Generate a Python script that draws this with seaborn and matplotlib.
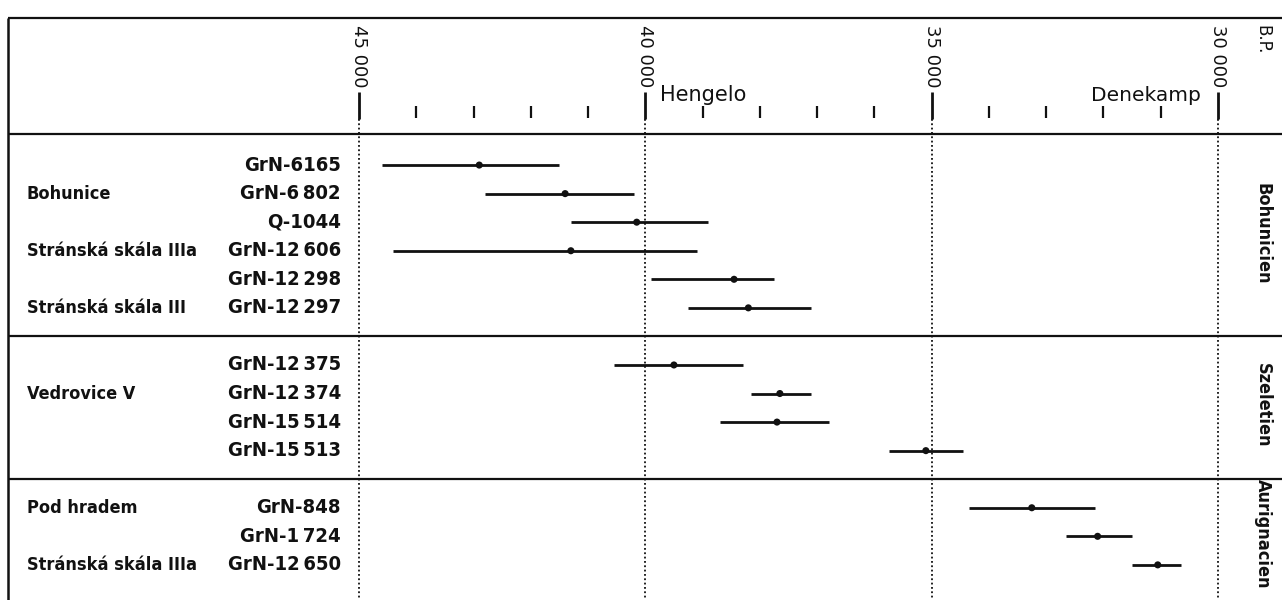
import matplotlib
matplotlib.use("Agg")
import matplotlib.pyplot as plt
import seaborn as sns
import pandas as pd
import numpy as np

# radiocarbon dates in years B.P.
sample_ids = ["GrN-6165", "GrN-6\u2009802", "Q-1044", "GrN-12\u2009606", "GrN-12\u2009298", "GrN-12\u2009297",
              "GrN-12\u2009375", "GrN-12\u2009374", "GrN-15\u2009514", "GrN-15\u2009513",
              "GrN-848", "GrN-1\u2009724", "GrN-12\u2009650"]
age_old = [44600, 42800, 41300, 44400, 39900, 39250, 40550, 38150, 38700, 35750, 34350, 32650, 31500]
age_mid = [42900, 41400, 40150, 41300, 38450, 38200, 39500, 37650, 37700, 35100, 33250, 32100, 31050]
age_young = [41500, 40200, 38900, 39100, 37750, 37100, 38300, 37100, 36800, 34450, 32150, 31500, 30650]
culture = ["Bohunicien"] * 6 + ["Szeletien"] * 4 + ["Aurignacien"] * 3

site_names = ["Bohunice", "Stránská skála IIIa", "Stránská skála III",
              "Vedrovice V", "Pod hradem", "Stránská skála IIIa"]
site_sample = [1, 3, 5, 7, 10, 12]   # which sample row the site name sits on

cultures = ["Bohunicien", "Szeletien", "Aurignacien"]
major_ticks = [45000, 40000, 35000, 30000]
minor_ticks = [44000, 43000, 42000, 41000, 39000, 38000, 37000, 36000,
               34000, 33000, 32000, 31000]
interstadials = ["Hengelo", "Denekamp"]
interstadial_x = [39750, 30300]

df = pd.DataFrame({"id": sample_ids, "old": age_old, "mid": age_mid,
                   "young": age_young, "culture": culture})
gidx = df["culture"].map({c: i for i, c in enumerate(cultures)})
df["row"] = np.arange(len(df)) + gidx   # one empty row between culture blocks

sns.set_style("white")
plt.rcParams["font.family"] = ["DejaVu Sans"]
ink = "#111111"

fig = plt.figure(figsize=(12.82, 6.0), dpi=100)
ax = fig.add_axes([0, 0, 1, 1])

# date ranges and central values
ax.hlines(df["row"], df["old"], df["young"], color=ink, lw=2.0, zorder=2)
sns.scatterplot(data=df, x="mid", y="row", color=ink, s=26, edgecolor="none",
                legend=False, ax=ax, zorder=3)

ax.set_xlim(51270, 28880)
ax.set_ylim(15.23, -5.78)
ax.axis("off")

yt = ax.get_yaxis_transform()
# frame lines
ax.vlines(0.0062, -5.15, 15.3, transform=yt, color=ink, lw=1.8)
for y in [-5.15, -1.09, 6.0, 11.0]:
    ax.hlines(y, 0.0062, 1.0, transform=yt, color=ink, lw=1.6)

# time scale
ax.vlines(major_ticks, -2.56, -1.6, color=ink, lw=2.0)
ax.vlines(minor_ticks, -2.07, -1.65, color=ink, lw=1.6)
ax.vlines(major_ticks, -1.6, 15.3, color=ink, lw=1.3, linestyles=(0, (1, 1.4)))
for v in major_ticks:
    ax.text(v, -4.9, f"{v // 1000} 000", rotation=270, ha="center", va="top",
            fontsize=13, color=ink)
ax.text(0.985, -4.9, "B.P.", transform=yt, rotation=270, ha="center", va="top",
        fontsize=12, color=ink)
ax.text(interstadial_x[0], -2.45, interstadials[0], ha="left", va="center",
        fontsize=15, color=ink)
ax.text(interstadial_x[1], -2.45, interstadials[1], ha="right", va="center",
        fontsize=14.5, color=ink)

# labels
lab = dict(fontweight="bold", fontstretch="condensed", color=ink)
for r, s in zip(df["row"], df["id"]):
    ax.text(0.266, r, s, transform=yt, ha="right", va="center", fontsize=14.5, **lab)
for i, s in zip(site_sample, site_names):
    ax.text(0.021, df["row"][i], s, transform=yt, ha="left", va="center", fontsize=13, **lab)
for c in cultures:
    ax.text(0.985, df.loc[df["culture"] == c, "row"].mean() - 0.1, c, transform=yt,
            rotation=270, ha="center", va="center", fontsize=13, **lab)

fig.savefig("out.png", dpi=100, facecolor="white")
